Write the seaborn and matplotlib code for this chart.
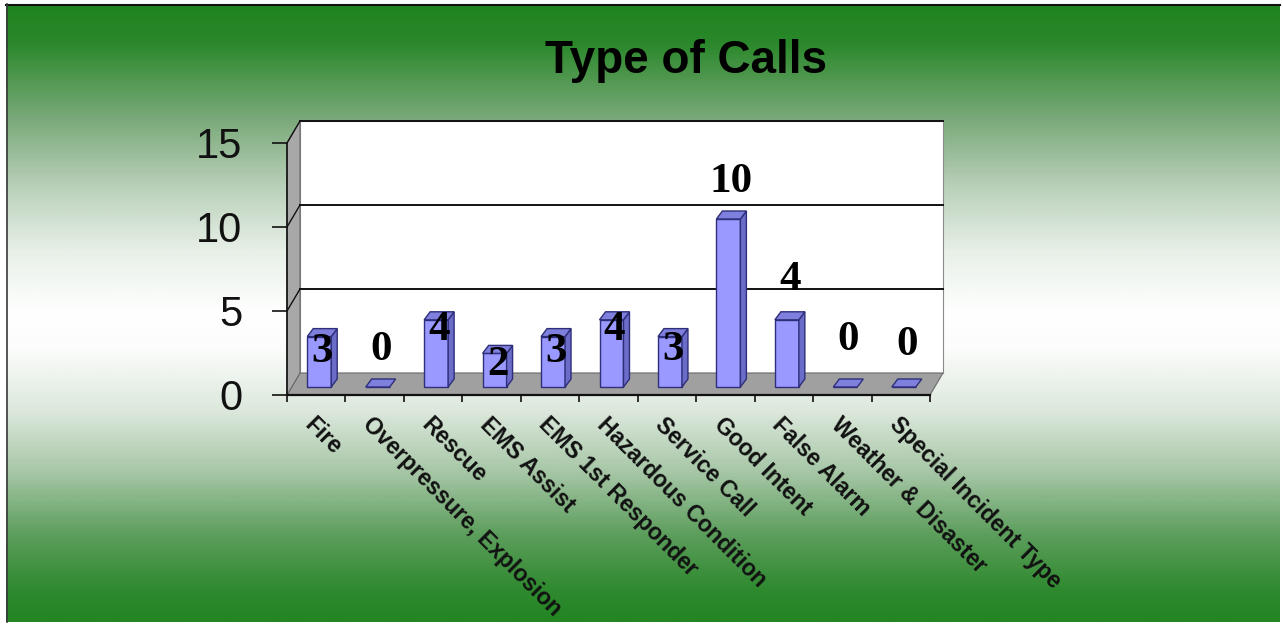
import numpy as np
import pandas as pd
import matplotlib
matplotlib.use("Agg")
import matplotlib.pyplot as plt
from matplotlib.colors import LinearSegmentedColormap
from matplotlib.patches import Polygon
import seaborn as sns

# chart data
call_types = ["Fire", "Overpressure, Explosion", "Rescue", "EMS Assist",
              "EMS 1st Responder", "Hazardous Condition", "Service Call",
              "Good Intent", "False Alarm", "Weather & Disaster",
              "Special Incident Type"]
call_counts = [3, 0, 4, 2, 3, 4, 3, 10, 4, 0, 0]
y_ticks = [0, 5, 10, 15]

# where the data labels sit relative to the bar value (as in the picture)
label_lift = [-0.44, 2.68, -0.13, -0.21, -0.44, -0.13, -0.32, 2.68, 2.85, 3.27, 2.98]

W, H = 1283, 625
fig = plt.figure(figsize=(W / 100, H / 100), dpi=100)
fig.patch.set_facecolor("white")

# ---------- green / white gradient background ----------
bg = fig.add_axes([0, 0, 1, 1])
bg.set_xlim(0, W)
bg.set_ylim(H, 0)
bg.axis("off")
stops = [(0.00, "#1f841f"), (0.06, "#2a882a"), (0.18, "#78a878"), (0.30, "#bcd2bc"),
         (0.40, "#e8f0e8"), (0.50, "#ffffff"), (0.56, "#fbfcfb"), (0.66, "#dce8dc"),
         (0.76, "#a6c6a6"), (0.86, "#5d9e5d"), (0.95, "#2f8a2f"), (1.00, "#238623")]
cmap = LinearSegmentedColormap.from_list("bg", stops)
grad = np.linspace(0, 1, 400).reshape(-1, 1)
bg.imshow(grad, cmap=cmap, aspect="auto", extent=(6, 1280, 622, 4), interpolation="bilinear")
bg.plot([6, 1280], [4.5, 4.5], color="#111111", lw=1.5)
bg.plot([6.5, 6.5], [4, 622], color="#3a3a3a", lw=1.2)

fig.text(686 / W, 1 - 73 / H, "Type of Calls", ha="center", va="baseline",
         fontsize=33, fontweight="bold", family="Liberation Sans", color="black")

# ---------- main axes = front plane of the 3D box ----------
x0, x1, yb, yt = 287, 930, 395, 143
ax = fig.add_axes([x0 / W, 1 - yb / H, (x1 - x0) / W, (yb - yt) / H])
ax.set_facecolor("none")

df = pd.DataFrame({"type": call_types, "count": call_counts})
sns.barplot(data=df, x="type", y="count", order=call_types, color="#9999ff",
            width=0.41, edgecolor="#2e2e7a", linewidth=1.0, saturation=1,
            ax=ax, zorder=5)

ax.set_xlim(-0.5, 10.5)
ax.set_ylim(0, 15)

px_x = (x1 - x0) / 11.0
px_y = (yb - yt) / 15.0
DX, DY = 13 / px_x, 22 / px_y      # depth of the box
BX, BY = 3 / px_x, 8 / px_y        # bar plane offset
TX, TY = 6 / px_x, 8 / px_y        # bar depth

kw = dict(clip_on=False)
# floor and left wall
ax.add_patch(Polygon([(-0.5, 0), (10.5, 0), (10.5 + DX, DY), (-0.5 + DX, DY)],
                     closed=True, facecolor="#a0a0a0", edgecolor="#6a6a6a", lw=0.8, zorder=1, **kw))
ax.add_patch(Polygon([(-0.5, 0), (-0.5 + DX, DY), (-0.5 + DX, 15 + DY), (-0.5, 15)],
                     closed=True, facecolor="#a8a8a8", edgecolor="#6a6a6a", lw=0.8, zorder=1, **kw))
# back wall
ax.add_patch(Polygon([(-0.5 + DX, DY), (10.5 + DX, DY), (10.5 + DX, 15 + DY), (-0.5 + DX, 15 + DY)],
                     closed=True, facecolor="white", edgecolor="#8a8a8a", lw=0.8, zorder=0.5, **kw))
for v in y_ticks[1:]:
    ax.plot([-0.5 + DX, 10.5 + DX], [v + DY, v + DY], color="#111111", lw=1.4, zorder=2, **kw)
    ax.plot([-0.5, -0.5 + DX], [v, v + DY], color="#111111", lw=1.0, zorder=2, **kw)

# 3D faces built from the seaborn bars
for p in ax.patches[:]:
    if not hasattr(p, "get_width") or isinstance(p, Polygon):
        continue
    p.set_x(p.get_x() + BX)
    p.set_y(BY)
    bx0 = p.get_x()
    bw = p.get_width()
    bh = p.get_height()
    bx1 = bx0 + bw
    top = BY + bh
    if bh > 0:
        ax.add_patch(Polygon([(bx1, BY), (bx1 + TX, BY + TY), (bx1 + TX, top + TY), (bx1, top)],
                             closed=True, facecolor="#6b6bc8", edgecolor="#2e2e7a", lw=1.0, zorder=5))
    ax.add_patch(Polygon([(bx0, top), (bx1, top), (bx1 + TX, top + TY), (bx0 + TX, top + TY)],
                         closed=True, facecolor="#7f7fdd", edgecolor="#2e2e7a", lw=1.0, zorder=5.5))

# data labels
for i, (v, lift) in enumerate(zip(call_counts, label_lift)):
    ax.text(i + BX + TX / 2, v + lift, str(v), ha="center", va="center",
            fontsize=31, fontweight="bold", family="Liberation Serif", color="black", zorder=8)

# axis lines and ticks
sns.despine(ax=ax, top=True, right=True)
ax.spines["left"].set_color("#111111")
ax.spines["bottom"].set_color("#111111")
ax.spines["left"].set_linewidth(1.2)
ax.spines["bottom"].set_linewidth(1.6)
ax.spines["left"].set_zorder(3)
ax.spines["bottom"].set_zorder(3)

ax.set_yticks(y_ticks)
ax.set_yticklabels([str(t) for t in y_ticks], family="Liberation Sans", fontsize=30, color="#111111")
ax.tick_params(axis="y", length=11, width=1.2, pad=21, color="#111111")

ax.set_xticks(range(len(call_types)))
ax.set_xticklabels(call_types, rotation=-45, ha="left", rotation_mode="anchor",
                   family="Liberation Sans", fontweight="bold", fontsize=16.5, color="#111111")
ax.tick_params(axis="x", length=0, pad=13)
ax.set_xticks(np.arange(-0.5, 11, 1), minor=True)
ax.tick_params(axis="x", which="minor", length=5, width=1.2, color="#111111")
ax.set_xlabel("")
ax.set_ylabel("")
ax.grid(False)

fig.savefig("out.png", dpi=100, facecolor="white")
